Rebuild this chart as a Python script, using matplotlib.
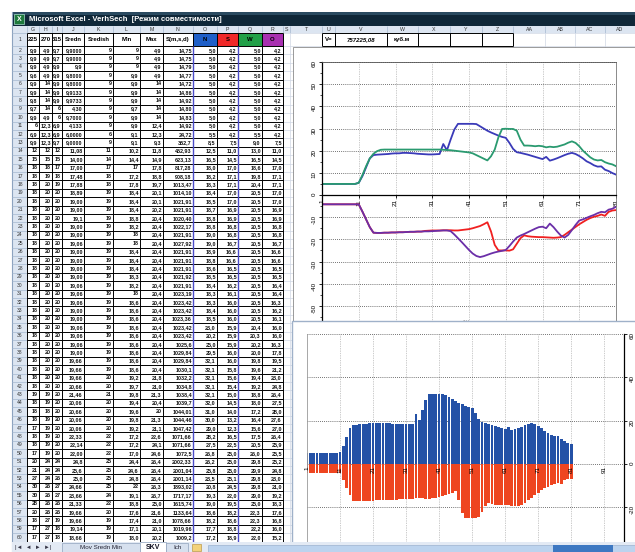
import matplotlib
matplotlib.use("Agg")
import matplotlib.pyplot as plt
from matplotlib.patches import Rectangle
from matplotlib.ticker import MultipleLocator

plt.rcParams['font.family'] = ['Liberation Sans', 'DejaVu Sans']
plt.rcParams['axes.unicode_minus'] = False

# ---- chart series, 81 points each ----
n_vals = [5.0, 5.0, 5.0, 5.0, 5.0, 5.0, 5.0, 5.0, 5.0, 5.0,
          5.5, 8.5, 12.5, 16.5, 18.0, 18.2, 18.3, 18.4, 18.5, 18.7, 18.8,
          18.8, 19.0, 19.0, 18.9, 18.8, 18.6, 18.5, 18.4, 18.3, 18.3,
          18.4, 18.5, 23.0, 20.2, 25.0, 29.5, 32.1, 32.1, 32.1, 32.1,
          32.1, 32.0, 31.0, 30.0, 29.0, 28.2, 27.5, 26.8, 26.2, 25.8,
          23.5, 20.8, 19.3, 19.0, 18.6, 18.2, 17.7, 17.2, 16.7, 16.2,
          17.2, 15.5, 16.0, 16.6, 17.3, 18.0, 18.6, 19.0, 18.5, 17.6,
          16.5, 15.2, 14.4, 13.4, 12.8, 12.9, 11.4, 10.8, 9.9, 9.2]
s_vals = [-4.2, -4.2, -4.2, -4.2, -4.2, -4.2, -4.2, -4.2, -4.2, -4.2, -4.2,
          -7.5, -11.0, -14.5, -17.0, -17.1, -17.1, -17.0, -17.0, -16.9, -16.9,
          -16.8, -16.8, -16.7, -16.6, -16.6, -16.5, -16.5, -16.2, -16.1, -16.0,
          -16.0, -16.0, -15.9, -15.9, -15.9, -16.0, -16.0, -15.8, -15.6, -15.4,
          -15.0, -14.5, -14.0, -13.2, -12.3, -16.5, -22.5, -25.0, -25.0, -25.0,
          -25.1, -24.5, -22.0, -19.5, -18.2, -18.6, -18.8, -18.9, -19.0, -19.0,
          -19.1, -19.2, -19.3, -19.2, -19.0, -18.0, -16.8, -15.6, -14.4, -13.2,
          -12.2, -11.2, -10.4, -9.8, -9.4, -8.8, -9.4, -7.6, -7.0, -6.8]
w_vals = [5.0, 5.0, 5.0, 5.0, 5.0, 5.0, 5.0, 5.0, 5.0, 5.0, 5.5,
          9.0, 13.0, 16.5, 18.6, 19.8, 20.4, 20.5, 20.5, 20.5, 20.5,
          20.5, 20.5, 20.5, 20.5, 20.5, 20.5, 20.5, 20.5, 20.5, 20.5,
          20.5, 20.5, 20.4, 20.3, 20.2, 20.0, 19.8, 19.6, 19.4, 19.2,
          18.8, 18.0, 17.2, 16.4, 15.6, 17.5, 20.5, 26.0, 29.8, 29.9,
          29.8, 29.8, 29.0, 25.0, 22.3, 22.3, 22.2, 22.0, 22.2, 22.0,
          21.5, 21.8, 21.6, 21.8, 22.3, 22.8, 23.6, 24.2, 23.5, 22.0,
          20.0, 18.5, 17.0, 16.0, 15.6, 15.8, 14.8, 14.2, 13.8, 13.0]
o_vals = [-4.2, -4.2, -4.2, -4.2, -4.2, -4.2, -4.2, -4.2, -4.2, -4.2, -4.2,
          -7.5, -11.0, -14.5, -17.0, -17.1, -17.1, -17.0, -17.0, -16.9, -16.9,
          -16.8, -16.8, -16.7, -16.6, -16.6, -16.5, -16.5, -16.4, -16.4, -16.3,
          -16.2, -16.1, -16.0, -16.0, -16.3, -17.8, -19.5, -21.2, -23.0, -24.8,
          -26.4, -27.5, -28.0, -27.6, -27.0, -26.4, -25.9, -25.5, -25.2, -24.8,
          -23.0, -21.0, -19.2, -18.3, -17.6, -16.8, -16.0, -15.2, -14.5, -14.3,
          -15.0, -12.9, -14.5, -16.5, -18.3, -19.2, -18.0, -15.8, -13.5, -11.5,
          -11.0, -10.3, -9.6, -9.0, -8.2, -7.6, -7.8, -6.6, -6.2, -5.3]

top_xlabels = ["1", "11", "21", "31", "41", "51", "61", "71", "81"]
bot_xlabels = ["1", "11", "21", "31", "41", "51", "61", "71", "81", "91"]

# ---- spreadsheet ----
col_letters = ["G", "H", "I", "J", "K", "L", "M", "N", "O", "P", "Q", "R", "S",
               "T", "U", "V", "W", "X", "Y", "Z", "AA", "AB", "AC", "AD"]
col_edges = [27, 39, 52, 62, 84, 113, 140, 163, 193, 217, 238, 262, 283, 290,
             322, 335, 387, 418, 450, 482, 513, 545, 575, 605, 635]
head_row = ["225", "270", "315", "Sredn", "Sredish", "Min", "Max", "S(m,s,d)",
            "N", "S", "W", "O"]
head_colors = ["#1F5FC8", "#F02828", "#22A048", "#A830B0"]

c225 = ("9,9 9,9 9,9 9,6 9,9 9,9 9,8 9,7 9,9 6 6,9 "
        "9,9 12 15 18 18 18 18 18 18 18 18 18 18 18 "
        "18 18 18 18 18 18 18 18 18 18 18 18 18 18 "
        "18 18 19 18 18 18 17 18 18 17 "
        "20 21 27 30 30 28 20 18 17 17").split()
c270 = ("4,9 4,9 4,9 4,9 14 14 14 14 4,9 12,3 12,3 "
        "12,3 12 15 18 19 20 20 20 20 20 20 20 20 20 "
        "20 20 20 20 20 20 20 20 20 20 20 20 20 20 "
        "20 20 19 19 18 19 19 19 19 19 "
        "24 24 24 26 26 26 26 27 27 27").split()
c315 = ("9,7 9,7 9,9 9,9 9,9 9,9 9,9 6 6 6,9 6,9 "
        "9,7 12 15 17 18 19 20 20 20 20 20 20 20 20 "
        "20 20 20 20 20 20 20 20 20 20 20 20 20 20 "
        "20 20 20 20 20 20 20 20 20 20 "
        "24 24 26 27 27 26 26 19 18 18").split()
sredn = ("9,9000 9,9000 9,9 9,8000 9,8000 9,9133 9,9733 4,30 9,7000 4,133 6,0000 "
         "9,0000 11,08 14,00 17,00 17,48 17,88 18,89 19,00 19,00 19,1 19,00 19,00 19,06 19,00 "
         "19,00 19,00 19,00 19,06 19,06 19,06 19,00 19,00 19,06 19,06 19,06 19,00 19,66 19,66 "
         "19,66 20,66 21,46 20,06 20,66 20,06 20,06 22,33 22,14 22,00 "
         "24,8 25,6 25,0 24,66 23,66 21,33 19,66 19,66 19,14 18,66").split()
sredish = ("9 9 9 9 9 9 9 9 9 9 6 "
           "9 11 14 17 18 18 19 19 19 19 19 19 19 19 "
           "19 19 19 19 19 19 19 19 19 19 19 19 19 19 "
           "20 20 21 20 20 20 20 22 22 22 "
           "25 25 25 25 24 22 20 19 19 19").split()
minv = ("9 9 9 9,9 9,9 9,9 9,9 9,7 9,9 9,9 9,1 "
        "9,1 10,2 14,4 17 17,2 17,8 18,4 18,4 18,4 18,8 18,2 18 18 18,4 "
        "18,4 18,4 18,3 18,2 18 18,6 18,6 18,6 18,6 18,6 18,6 18,6 18,6 18,6 "
        "19,2 19,7 19,8 19,4 19,6 19,8 19,2 17,2 17,2 17,0 "
        "24,4 24,6 24,8 22 19,1 18,8 17,6 17,4 17,1 18,0").split()
maxv = ("4,9 4,9 4,9 4,9 14 14 14 14 14 12,4 12,3 "
        "9,3 11,8 14,9 17,8 18,8 19,7 20,1 20,1 20,2 20,4 20,4 20,4 20,4 20,4 "
        "20,4 20,4 20,4 20,4 20,4 20,4 20,4 20,4 20,4 20,4 20,4 20,4 20,4 20,4 "
        "21,8 21,0 21,3 20,4 20 21,3 21,1 22,6 24,1 24,6 "
        "26,4 26,4 26,4 26,3 26,7 25,0 21,6 21,0 20,1 20,2").split()
smsd = ("14,75 14,75 14,79 14,77 14,72 14,86 14,92 14,80 14,83 14,92 24,72 "
        "352,7 452,93 623,13 817,28 908,18 1013,47 1014,10 1021,91 1021,91 1020,40 "
        "1022,17 1021,91 1027,92 1021,91 "
        "1021,91 1021,91 1021,92 1021,91 1023,19 1023,42 1023,42 1023,36 1023,42 "
        "1023,42 1025,6 1029,84 1029,84 1030,1 "
        "1032,2 1034,8 1038,4 1039,7 1044,01 1044,46 1047,42 1071,66 1071,66 1072,5 "
        "2002,33 2001,04 2001,14 1893,02 1717,17 1615,74 1133,64 1078,66 1019,96 1009,2").split()

n_rows = 59   # sheet rows 2..60
W, H = 635, 552
ROW_H = 8.4


def fmt(v):
    return f"{abs(v):.1f}".replace(".", ",")


def frac(x0, y0, x1, y1):
    return [x0 / W, 1 - y1 / H, (x1 - x0) / W, (y1 - y0) / H]


def pixel_axes(z):
    a = fig.add_axes([0, 0, 1, 1], zorder=z)
    a.set_xlim(0, W)
    a.set_ylim(H, 0)
    a.axis("off")
    a.patch.set_visible(False)
    return a


fig = plt.figure(figsize=(6.35, 5.52), dpi=100)
ax0 = pixel_axes(0)

# title bar
ax0.add_patch(Rectangle((12, 12), 623, 14, fc="#0F2738", ec="none"))
ax0.add_patch(Rectangle((12, 12), 623, 3, fc="#2A4A60", ec="none"))
ax0.add_patch(Rectangle((14, 14), 10, 10, fc="#1E7A3C", ec="#cfe", lw=0.4))
ax0.text(19, 19.5, "X", color="white", fontsize=5, ha="center", va="center", weight="bold")
ax0.text(29, 19.5, "Microsoft Excel - VerhSech  [Режим совместимости]", color="white",
         fontsize=5.5, va="center", weight="bold")

# header strips
ax0.add_patch(Rectangle((12, 26), 623, 7, fc="#DCE5F1", ec="none"))
ax0.add_patch(Rectangle((12, 33), 15, n_rows * ROW_H + 13, fc="#DCE5F1", ec="none"))
ax0.plot([12, 12], [12, 552], color="#8DA3BF", lw=0.8)
for i, letter in enumerate(col_letters):
    cx = (col_edges[i] + col_edges[i + 1]) / 2
    ax0.text(cx, 29.7, letter, fontsize=3.8, ha="center", va="center", color="#333")
ax0.vlines(col_edges, 26, 33, color="#A5B8CF", lw=0.5)

row_y = [33, 46] + [46 + (k + 1) * ROW_H for k in range(n_rows)]
for r in range(n_rows + 1):
    ax0.text(20, (row_y[r] + row_y[r + 1]) / 2, str(r + 1), fontsize=3.6,
             ha="center", va="center", color="#333")
ax0.hlines(row_y, 12, 27, color="#A5B8CF", lw=0.5)

# light grid of the empty columns
ax0.hlines(row_y, 283, 635, color="#D0D7E5", lw=0.5)
ax0.vlines(col_edges[13:], 33, row_y[-1], color="#D0D7E5", lw=0.5)

# header row
for c, txt in enumerate(head_row):
    x0, x1 = col_edges[c], col_edges[c + 1]
    if c >= 8:
        ax0.add_patch(Rectangle((x0, 33), x1 - x0, 13, fc=head_colors[c - 8], ec="none"))
    ax0.text((x0 + x1) / 2, 39.5, txt, fontsize=4.3, ha="center", va="center", weight="bold")

# data rows
text_cols = [c225, c270, c315, sredn, sredish, minv, maxv, smsd]
for r in range(n_rows):
    yc = (row_y[r + 1] + row_y[r + 2]) / 2
    cells = [col[r] for col in text_cols] + [fmt(n_vals[r]), fmt(s_vals[r]),
                                             fmt(w_vals[r]), fmt(o_vals[r])]
    for c, txt in enumerate(cells):
        ax0.text(col_edges[c + 1] - 1.2, yc, txt, fontsize=3.9, ha="right",
                 va="center", weight="bold", color="#111")

ax0.hlines(row_y, 27, 283, color="black", lw=0.7)
ax0.vlines(col_edges[:13], 33, row_y[-1], color="black", lw=0.7)
ax0.vlines([193, 238], 46, row_y[-1], color="#4B4BC8", lw=1.0)

# row 1 cells U..Z
ax0.hlines([33, 46], 322, 513, color="black", lw=0.7)
ax0.vlines(col_edges[14:21], 33, 46, color="black", lw=0.7)
ax0.text(328.5, 39.5, "V=", fontsize=4.3, ha="center", va="center", weight="bold")
ax0.text(361, 39.5, "757225,08", fontsize=4.3, ha="center", va="center",
         weight="bold", style="italic")
ax0.text(402, 39.5, "куб.м", fontsize=4.3, ha="center", va="center", weight="bold")

# top chart frame
ax0.add_patch(Rectangle((293, 47), 342, 280, fc="white", ec="#8A8A8A", lw=0.6, zorder=10))

# ---- top chart: lines ----
ax1 = fig.add_axes(frac(322, 62, 616, 328), zorder=1)
xs = list(range(len(n_vals)))
ax1.plot(xs, n_vals, color="#3A3AB8", lw=1.3)
ax1.plot(xs, s_vals, color="#F02020", lw=1.3)
ax1.plot(xs, w_vals, color="#2A9A70", lw=1.3)
ax1.plot(xs, o_vals, color="#6B2FA8", lw=1.3)
ax1.set_xlim(0, 80)
ax1.set_ylim(-60, 60)
ax1.set_xticks(range(0, 81, 10))
ax1.set_xticklabels(top_xlabels)
ax1.yaxis.set_major_locator(MultipleLocator(10))
ax1.yaxis.set_minor_locator(MultipleLocator(5))
ax1.grid(True, which="major", axis="y", color="#444", ls=(0, (1, 1.5)), lw=0.6)
ax1.grid(True, which="major", axis="x", color="#9A9A9A", ls=(0, (1, 1.5)), lw=0.5)
ax1.spines["bottom"].set_position(("data", 0))
ax1.spines["bottom"].set_linewidth(0.9)
ax1.spines["left"].set_linewidth(0.9)
ax1.spines["top"].set_color("#555")
ax1.spines["top"].set_linewidth(0.6)
ax1.spines["right"].set_color("#777")
ax1.spines["right"].set_linewidth(0.6)
ax1.tick_params(axis="y", which="major", labelsize=4.5, labelrotation=90,
                length=2.5, width=0.6, pad=1.5)
ax1.tick_params(axis="y", which="minor", length=1.5, width=0.5)
ax1.tick_params(axis="x", length=2, width=0.6, pad=1, labelsize=4.5, labelrotation=90)

# bottom chart frame (selected chart)
axB = pixel_axes(2)
axB.add_patch(Rectangle((292, 321), 350, 240, fc="white", ec="#9FB1C9", lw=1.0))
axB.text(466, 321, "····", fontsize=4, ha="center", va="center", color="#555")

# ---- bottom chart: bars ----
ax2 = fig.add_axes(frac(307, 334, 624, 594), zorder=3)
for gx in range(10, 91, 10):
    ax2.axvline(gx, color="#9A9A9A", ls=(0, (1, 1.5)), lw=0.5, zorder=0.5)
ax2.bar(xs, n_vals, width=0.85, color="#2451A6", lw=0, zorder=1)
ax2.bar(xs, s_vals, width=0.85, color="#EE4520", lw=0, zorder=1)
ax2.set_xlim(0, 96)
ax2.set_ylim(-60, 60)
ax2.set_xticks(range(0, 91, 10))
ax2.set_xticklabels(bot_xlabels)
ax2.set_yticks(range(-60, 61, 20))
ax2.yaxis.tick_right()
ax2.grid(True, axis="y", color="#444", ls=(0, (1, 1.5)), lw=0.6)
ax2.set_axisbelow(True)
ax2.xaxis.set_zorder(3)
ax2.spines["bottom"].set_position(("data", 0))
ax2.spines["bottom"].set_color("none")
ax2.spines["top"].set_visible(False)
ax2.spines["left"].set_color("#999")
ax2.spines["left"].set_linewidth(0.6)
ax2.spines["right"].set_linewidth(0.9)
ax2.tick_params(axis="x", length=0, pad=1.5, labelsize=4.5, labelrotation=90)
ax2.tick_params(axis="y", labelsize=4.5, labelrotation=90, length=2.5, width=0.6, pad=1.5)

# ---- sheet tabs and scrollbar ----
ax3 = pixel_axes(5)
ax3.add_patch(Rectangle((12, 542), 623, 10, fc="#E3EAF4", ec="none"))
ax3.text(15, 547.5, "|◄  ◄  ►  ►|", fontsize=4.2, va="center", color="#334")
ax3.add_patch(Rectangle((62, 543), 78, 9, fc="#D6E0EE", ec="#8FA3BD", lw=0.5))
ax3.text(101, 547.5, "Mov Sredn Min", fontsize=4.5, ha="center", va="center", color="#223")
ax3.add_patch(Rectangle((140, 542), 26, 10, fc="white", ec="#8FA3BD", lw=0.5))
ax3.text(153, 547.5, "SKV", fontsize=5, ha="center", va="center", weight="bold", color="#112")
ax3.add_patch(Rectangle((166, 543), 22, 9, fc="#D6E0EE", ec="#8FA3BD", lw=0.5))
ax3.text(177, 547.5, "Ich", fontsize=4.5, ha="center", va="center", color="#223")
ax3.add_patch(Rectangle((192, 544), 9, 7, fc="#F3D27A", ec="#B08A30", lw=0.4))
ax3.add_patch(Rectangle((208, 544.5), 427, 7.5, fc="#BCD3EE", ec="#8FA8C8", lw=0.4))
ax3.add_patch(Rectangle((553, 544.5), 60, 7.5, fc="#3D78C2", ec="none"))

fig.savefig("out.png", dpi=100)
